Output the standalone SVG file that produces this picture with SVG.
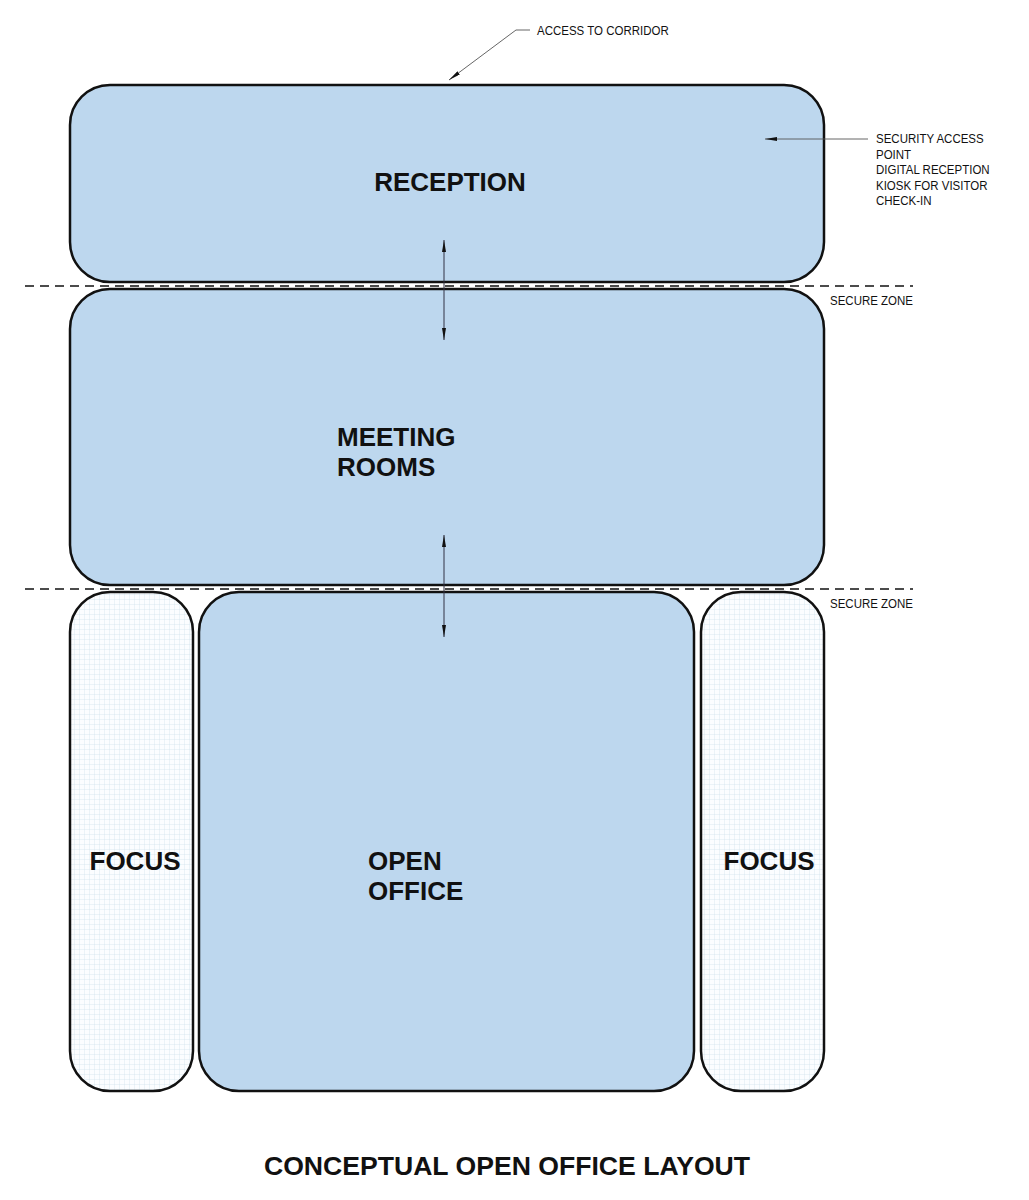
<svg xmlns="http://www.w3.org/2000/svg" width="1029" height="1200" viewBox="0 0 1029 1200">
<style>
.room{fill:#bdd7ee;stroke:#111;stroke-width:2.5}
.focus{fill:url(#grid);stroke:#111;stroke-width:2.5}
.lbl{font-family:"Liberation Sans",Arial,sans-serif;font-weight:bold;font-size:26px;fill:#111}
.title{font-family:"Liberation Sans",Arial,sans-serif;font-weight:bold;font-size:26.6px;fill:#111}
.note{font-family:"Liberation Sans",Arial,sans-serif;font-size:12.5px;fill:#111}
.dash{stroke:#111;stroke-width:1.3;stroke-dasharray:9,6;fill:none}
.lead{stroke:#555;stroke-width:0.9;fill:none}
.arr{stroke:#334;stroke-width:1;fill:none}
</style>
<defs>
<pattern id="grid" width="5" height="5" patternUnits="userSpaceOnUse">
<rect width="5" height="5" fill="#fbfdff"/>
<path d="M5 0V5M0 5H5" stroke="#cfdfec" stroke-width="0.7"/>
</pattern>
<marker id="ah" viewBox="0 0 12 4" refX="12" refY="2" markerWidth="12" markerHeight="4" markerUnits="userSpaceOnUse" orient="auto-start-reverse">
<path d="M0 0L12 2L0 4Z" fill="#111"/>
</marker>
</defs>
<rect width="1029" height="1200" fill="#fff"/>
<g id="reception">
<rect class="room" x="70" y="85" width="754" height="197" rx="40"/>
<text class="lbl" x="450" y="191" text-anchor="middle">RECEPTION</text>
</g>
<g id="meeting-rooms">
<rect class="room" x="70" y="289" width="754" height="296" rx="40"/>
<text class="lbl" x="337" y="446">MEETING</text>
<text class="lbl" x="337" y="476">ROOMS</text>
</g>
<g id="focus-left">
<rect class="focus" x="70" y="592" width="123" height="499" rx="40"/>
<text class="lbl" x="135" y="870" text-anchor="middle">FOCUS</text>
</g>
<g id="open-office">
<rect class="room" x="199" y="592" width="495" height="499" rx="40"/>
<text class="lbl" x="368" y="870">OPEN</text>
<text class="lbl" x="368" y="900">OFFICE</text>
</g>
<g id="focus-right">
<rect class="focus" x="701" y="592" width="123" height="499" rx="40"/>
<text class="lbl" x="769" y="870" text-anchor="middle">FOCUS</text>
</g>
<g id="zones">
<line class="dash" x1="25" y1="286" x2="913" y2="286"/>
<line class="dash" x1="25" y1="589" x2="913" y2="589"/>
<text class="note" transform="translate(830,305) scale(0.92,1)">SECURE ZONE</text>
<text class="note" transform="translate(830,608) scale(0.92,1)">SECURE ZONE</text>
</g>
<g id="connectors">
<line class="arr" x1="444" y1="240" x2="444" y2="340" marker-start="url(#ah)" marker-end="url(#ah)"/>
<line class="arr" x1="444" y1="535" x2="444" y2="637" marker-start="url(#ah)" marker-end="url(#ah)"/>
<polyline class="lead" points="530,30 516,30 449,80" marker-end="url(#ah)"/>
<line class="lead" x1="868" y1="139" x2="765" y2="139" marker-end="url(#ah)"/>
</g>
<g id="notes">
<text class="note" transform="translate(537,35) scale(0.92,1)">ACCESS TO CORRIDOR</text>
<text class="note" transform="translate(876,143) scale(0.92,1)">SECURITY ACCESS</text>
<text class="note" transform="translate(876,158.5) scale(0.92,1)">POINT</text>
<text class="note" transform="translate(876,174) scale(0.92,1)">DIGITAL RECEPTION</text>
<text class="note" transform="translate(876,189.5) scale(0.92,1)">KIOSK FOR VISITOR</text>
<text class="note" transform="translate(876,205) scale(0.92,1)">CHECK-IN</text>
</g>
<text class="title" x="507" y="1175" text-anchor="middle">CONCEPTUAL OPEN OFFICE LAYOUT</text>
</svg>
